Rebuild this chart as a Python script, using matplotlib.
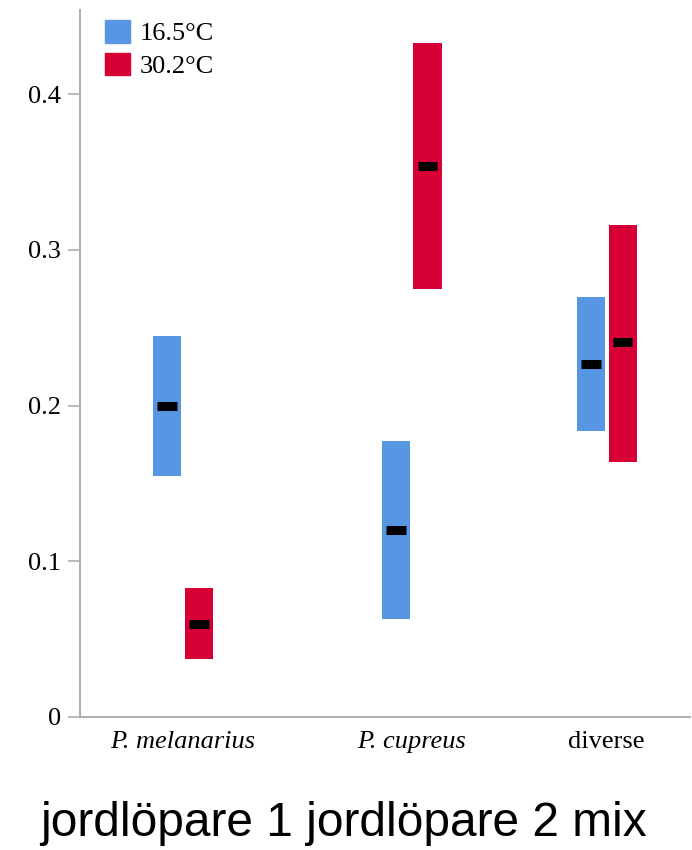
import numpy as np
import matplotlib.pyplot as plt
from matplotlib.patches import Patch

categories = ['P. melanarius', 'P. cupreus', 'diverse']
temps = ['16.5°C', '30.2°C']

# mean and lower/upper bounds per category
mean_cold = [0.200, 0.120, 0.227]
low_cold = [0.155, 0.063, 0.184]
high_cold = [0.245, 0.177, 0.270]

mean_warm = [0.060, 0.354, 0.241]
low_warm = [0.037, 0.275, 0.164]
high_warm = [0.083, 0.433, 0.316]

blue = '#5796e3'
red = '#d60036'

xpos = np.array([0.169, 0.544, 0.864])
w = 0.046
off = 0.026

fig = plt.figure(figsize=(6.92, 8.5), dpi=100)
ax = fig.add_axes([0.1156, 0.1565, 0.881, 0.8315])

for means, lo, hi, col, sgn in [(mean_cold, low_cold, high_cold, blue, -1),
                               (mean_warm, low_warm, high_warm, red, 1)]:
    lo = np.array(lo)
    hi = np.array(hi)
    x = xpos + sgn * off
    ax.bar(x, hi - lo, bottom=lo, width=w, color=col, linewidth=0)
    ax.hlines(means, x - 0.016, x + 0.016, color='black', linewidth=6.5)

ax.set_xlim(0, 1)
ax.set_ylim(0, 0.454)
ax.set_yticks([0, 0.1, 0.2, 0.3, 0.4])
ax.set_yticklabels(['0', '0.1', '0.2', '0.3', '0.4'], family='Liberation Serif', fontsize=19)
ax.set_xticks(xpos)
ax.set_xticklabels(categories, family='Liberation Serif', fontsize=19)
for lab in ax.get_xticklabels()[:2]:
    lab.set_style('italic')
ax.tick_params(axis='x', length=0, pad=10)
ax.tick_params(axis='y', length=8.5, width=1.3, color='#b4b4b4', pad=5)
for s in ['top', 'right']:
    ax.spines[s].set_visible(False)
for s in ['left', 'bottom']:
    ax.spines[s].set_color('#acacac')
    ax.spines[s].set_linewidth(1.4)

handles = [Patch(color=blue, label=temps[0]), Patch(color=red, label=temps[1])]
ax.legend(handles=handles, loc='upper left', bbox_to_anchor=(0.041, 0.9865), frameon=False,
          prop={'family': 'Liberation Serif', 'size': 19},
          handlelength=0.95, handleheight=0.95, handletextpad=0.35, labelspacing=0.28,
          borderaxespad=0.0, borderpad=0.0)

fig.text(0.497, 0.017, 'jordlöpare 1 jordlöpare 2 mix', ha='center', va='baseline',
         family='Liberation Sans', fontsize=34.5)

fig.savefig('out.png', dpi=100)
